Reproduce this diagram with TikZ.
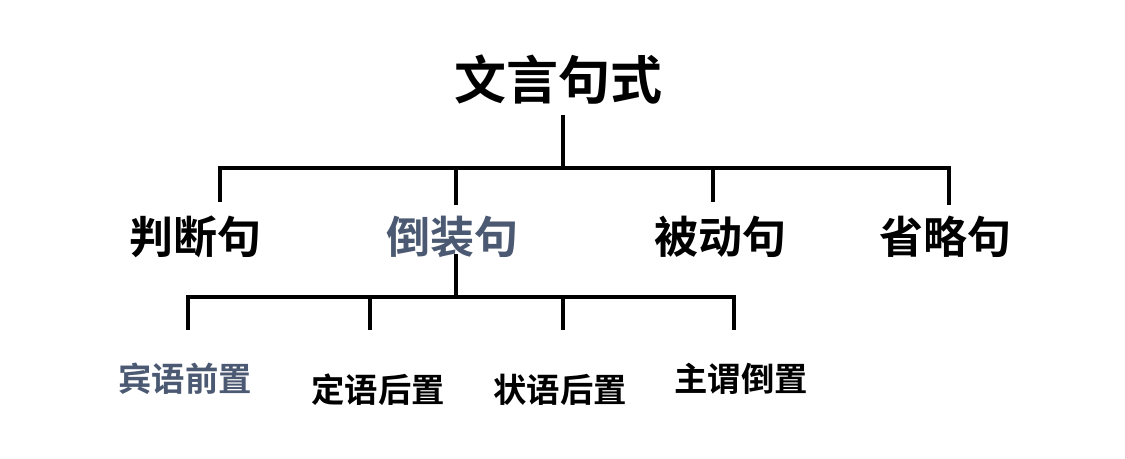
\documentclass[tikz,border=0pt]{standalone}
\usepackage{fontspec}
\setmainfont{Noto Sans CJK SC}[BoldFont={Noto Sans CJK SC Bold}]
\newfontfamily\cjkb{Noto Sans CJK SC Bold}
\definecolor{slate}{HTML}{4B5A72}
\tikzset{
  lvl0/.style={inner sep=0pt, font=\cjkb\fontsize{39pt}{44pt}\selectfont},
  lvl1/.style={inner sep=0pt, font=\cjkb\fontsize{33pt}{38pt}\selectfont},
  lvl2/.style={inner sep=0pt, font=\cjkb\fontsize{25pt}{30pt}\selectfont},
  link/.style={line width=3pt, line cap=rect},
}
\begin{document}
\begin{tikzpicture}[x=0.75pt,y=-0.75pt]
\useasboundingbox[fill=white] (0,0) rectangle (1125,459);
% texts
\node[lvl0] (root) at (558,80) {文言句式};
\node[lvl1] (pd) at (195,237) {判断句};
\node[lvl1, text=slate] (dz) at (452,237) {倒装句};
\node[lvl1] (bd) at (720,237) {被动句};
\node[lvl1] (sl) at (945,237) {省略句};
\node[lvl2, text=slate] (by) at (185,379) {宾语前置};
\node[lvl2] (dy) at (378,390) {定语后置};
\node[lvl2] (zy) at (560,390) {状语后置};
\node[lvl2] (zw) at (741,379) {主谓倒置};
% junction coordinates
\coordinate (rootTop) at (563,117);
\coordinate (rootBus) at (563,168);
\coordinate (busL) at (220,168);
\coordinate (busR) at (949,168);
\coordinate (pdTop) at (220,200);
\coordinate (dzTop) at (456,203);
\coordinate (dzBus) at (456,168);
\coordinate (bdTop) at (713,200);
\coordinate (bdBus) at (713,168);
\coordinate (slTop) at (949,203);
\coordinate (dzBot) at (456,256);
\coordinate (subBus) at (456,297);
\coordinate (subL) at (188,297);
\coordinate (subR) at (734,297);
\coordinate (byTop) at (188,328);
\coordinate (dyTop) at (370,328);
\coordinate (dyBus) at (370,297);
\coordinate (zyTop) at (563,328);
\coordinate (zyBus) at (563,297);
\coordinate (zwTop) at (734,328);
% connectors
\draw[link] (rootTop) -- (rootBus);
\draw[link] (pdTop) -- (busL) -- (busR) -- (slTop);
\draw[link] (dzBus) -- (dzTop);
\draw[link] (bdBus) -- (bdTop);
\draw[link] (dzBot) -- (subBus);
\draw[link] (byTop) -- (subL) -- (subR) -- (zwTop);
\draw[link] (dyBus) -- (dyTop);
\draw[link] (zyBus) -- (zyTop);
\end{tikzpicture}
\end{document}
